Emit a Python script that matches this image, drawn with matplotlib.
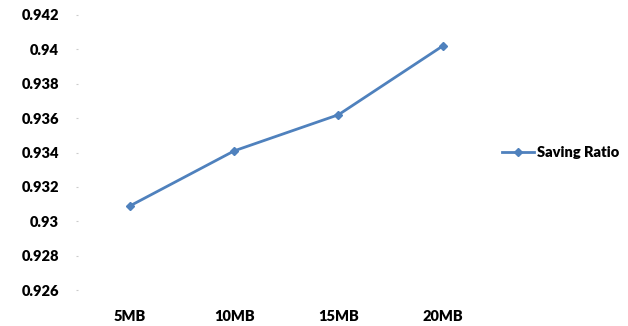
import matplotlib.pyplot as plt

categorias = ['5MB', '10MB', '15MB', '20MB']
saving_ratio = [0.9309, 0.9341, 0.9362, 0.9402]
ticks_y = [0.926, 0.928, 0.93, 0.932, 0.934, 0.936, 0.938, 0.94, 0.942]
rotulos_y = ['0.926', '0.928', '0.93', '0.932', '0.934', '0.936', '0.938', '0.94', '0.942']

plt.rcParams['font.family'] = ['Lato', 'DejaVu Sans']

fig = plt.figure(figsize=(6.28, 3.26), dpi=100)
ax = fig.add_axes([0.124, 0.110, 0.664, 0.844])

x = range(len(categorias))
ax.plot(x, saving_ratio, color='#4f81bd', linewidth=2, marker='D', markersize=4,
        label='Saving Ratio')

ax.set_xlim(-0.5, len(categorias) - 0.5)
ax.set_ylim(0.926, 0.942)
ax.set_xticks(list(x))
ax.set_xticklabels(categorias, fontsize=10.5, fontweight='heavy')
ax.set_yticks(ticks_y)
ax.set_yticklabels(rotulos_y, fontsize=10.5, fontweight='heavy')

for lado in ['top', 'right', 'bottom', 'left']:
    ax.spines[lado].set_visible(False)
ax.tick_params(axis='y', length=1.5, color='#cccccc', pad=12)
ax.tick_params(axis='x', length=0, pad=14)

ax.legend(loc='center left', bbox_to_anchor=(0.985, 0.5), frameon=False,
          handlelength=2.2, handletextpad=0.2,
          prop={'size': 10.5, 'weight': 'heavy'})

plt.savefig('out.png', dpi=100)
